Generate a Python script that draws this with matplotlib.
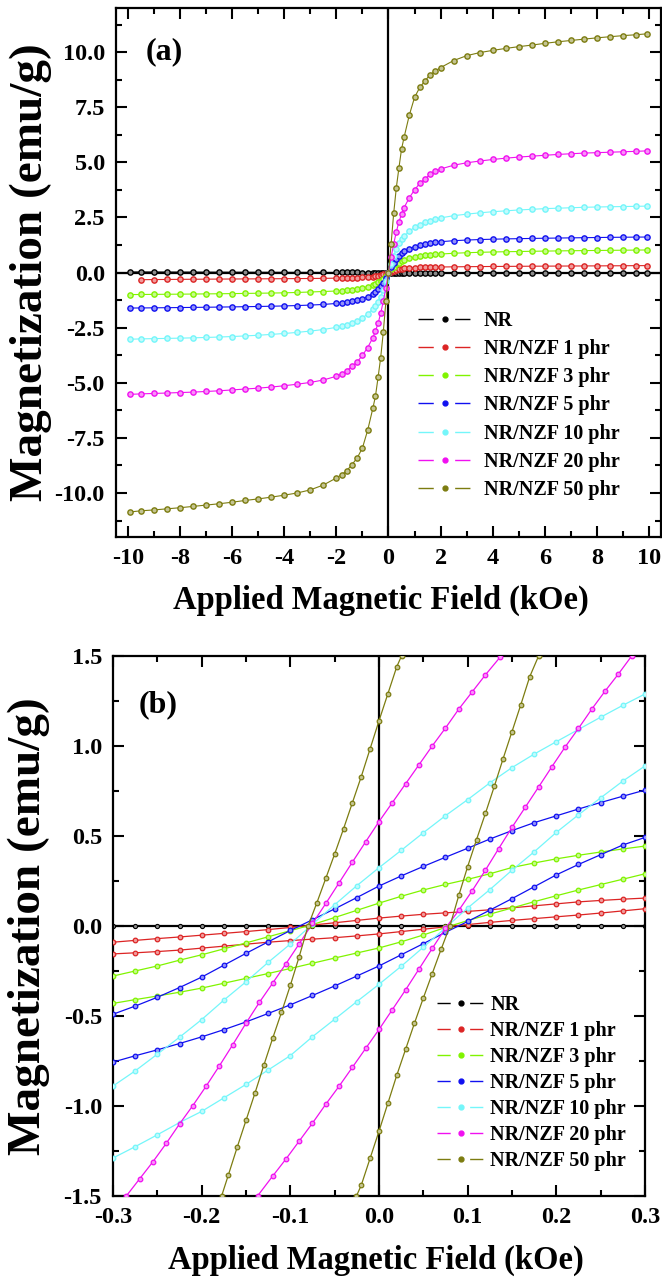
import numpy as np
import matplotlib
matplotlib.use('Agg')
import matplotlib.pyplot as plt
from matplotlib.lines import Line2D
from matplotlib.ticker import MultipleLocator, FormatStrFormatter
import matplotlib.colors as mcolors

plt.rcParams['font.family'] = ['Liberation Serif', 'DejaVu Serif']
plt.rcParams['font.weight'] = 'bold'
plt.rcParams['axes.unicode_minus'] = False

LABELS = ['NR', 'NR/NZF 1 phr', 'NR/NZF 3 phr', 'NR/NZF 5 phr',
          'NR/NZF 10 phr', 'NR/NZF 20 phr', 'NR/NZF 50 phr']
COLORS = ['#000000', '#DC2424', '#80F400', '#1010F0', '#74F6FA', '#F010F0', '#7C7C10']

nan = float('nan')

# ---------------- Panel (a): full loops, field in kOe ----------------
H_A = [-9.9, -9.5, -9.0, -8.5, -8.0, -7.5, -7.0, -6.5, -6.0, -5.5, -5.0, -4.5, -4.0, -3.5,
       -3.0, -2.5, -2.0, -1.8, -1.6, -1.4, -1.2, -1.0, -0.8, -0.6, -0.5, -0.4, -0.3, -0.2, -0.1,
       0.0,
       0.1, 0.2, 0.3, 0.4, 0.5, 0.6, 0.8, 1.0, 1.2, 1.4, 1.6, 1.8, 2.0, 2.5, 3.0, 3.5, 4.0,
       4.5, 5.0, 5.5, 6.0, 6.5, 7.0, 7.5, 8.0, 8.5, 9.0, 9.5, 9.9]

MA_NR = [0.028, 0.027, 0.025, 0.024, 0.022, 0.021, 0.019, 0.018, 0.016, 0.015, 0.013, 0.012, 0.010, 0.009,
         0.008, 0.006, 0.005, 0.004, 0.004, 0.003, 0.003, 0.002, 0.002, 0.001, 0.001, 0.001, 0.000, 0.000, 0.000,
         0.000,
         0.000, 0.000, 0.000, -0.001, -0.001, -0.001, -0.002, -0.002, -0.003, -0.003, -0.004, -0.004, -0.005, -0.006,
         -0.008, -0.009, -0.010, -0.012, -0.013, -0.015, -0.016, -0.018, -0.019, -0.021, -0.022, -0.024, -0.025,
         -0.027, -0.028]
MA_1 = [nan, -0.325, -0.318, -0.313, -0.308, -0.304, -0.300, -0.296, -0.292, -0.289, -0.286, -0.282, -0.278, -0.274,
        -0.269, -0.263, -0.254, -0.249, -0.244, -0.238, -0.231, -0.221, -0.209, -0.191, -0.176, -0.156, -0.129, -0.088,
        -0.046,
        0.000,
        0.045, 0.087, 0.128, 0.155, 0.175, 0.190, 0.208, 0.220, 0.230, 0.237, 0.243, 0.248, 0.252, 0.260, 0.266,
        0.271, 0.276, 0.280, 0.284, 0.288, 0.291, 0.294, 0.297, 0.300, 0.303, 0.306, 0.309, 0.312, 0.315]
MA_3 = [-1.000, -0.995, -0.990, -0.985, -0.980, -0.975, -0.968, -0.962, -0.955, -0.947, -0.938, -0.930, -0.920,
        -0.903, -0.882, -0.860, -0.838, -0.818, -0.798, -0.772, -0.742, -0.700, -0.640, -0.560, -0.510, -0.450,
        -0.370, -0.270, -0.145,
        0.000,
        0.145, 0.270, 0.370, 0.450, 0.510, 0.560, 0.640, 0.700, 0.745, 0.775, 0.800, 0.820, 0.840, 0.875, 0.900,
        0.918, 0.933, 0.945, 0.955, 0.965, 0.974, 0.982, 0.990, 0.996, 1.002, 1.008, 1.014, 1.020, 1.025]
MA_5 = [-1.610, -1.606, -1.600, -1.594, -1.588, -1.581, -1.574, -1.566, -1.558, -1.549, -1.539, -1.528, -1.514,
        -1.497, -1.476, -1.447, -1.402, -1.372, -1.342, -1.302, -1.252, -1.182, -1.092, -0.962, -0.872, -0.762,
        -0.622, -0.452, -0.232,
        0.000,
        0.230, 0.450, 0.620, 0.760, 0.870, 0.960, 1.090, 1.180, 1.250, 1.300, 1.340, 1.370, 1.400, 1.445, 1.475,
        1.497, 1.513, 1.527, 1.538, 1.548, 1.557, 1.566, 1.574, 1.582, 1.590, 1.597, 1.603, 1.608, 1.612]
MA_10 = [-3.025, -3.010, -2.998, -2.987, -2.976, -2.962, -2.945, -2.925, -2.903, -2.875, -2.845, -2.806, -2.765,
         -2.715, -2.655, -2.585, -2.485, -2.425, -2.365, -2.285, -2.185, -2.055, -1.885, -1.645, -1.505, -1.335,
         -1.095, -0.775, -0.405,
         0.000,
         0.400, 0.770, 1.090, 1.330, 1.500, 1.640, 1.880, 2.050, 2.180, 2.280, 2.360, 2.420, 2.480, 2.580, 2.650,
         2.710, 2.760, 2.800, 2.840, 2.870, 2.900, 2.920, 2.940, 2.960, 2.975, 2.985, 2.995, 3.005, 3.015]
MA_20 = [-5.525, -5.505, -5.485, -5.465, -5.445, -5.425, -5.395, -5.365, -5.325, -5.285, -5.245, -5.195, -5.135,
         -5.065, -4.985, -4.875, -4.705, -4.605, -4.455, -4.255, -4.055, -3.755, -3.405, -2.955, -2.655, -2.305,
         -1.855, -1.305, -0.705,
         0.000,
         0.700, 1.300, 1.850, 2.300, 2.650, 2.950, 3.400, 3.750, 4.050, 4.250, 4.450, 4.600, 4.700, 4.870, 4.980,
         5.060, 5.130, 5.190, 5.240, 5.280, 5.320, 5.360, 5.390, 5.420, 5.440, 5.460, 5.480, 5.500, 5.520]
MA_50 = [-10.860, -10.810, -10.770, -10.720, -10.670, -10.610, -10.550, -10.490, -10.420, -10.340, -10.270,
         -10.190, -10.100, -10.000, -9.860, -9.640, -9.320, -9.170, -8.990, -8.710, -8.410, -7.960, -7.160,
         -6.160, -5.610, -4.760, -3.860, -2.710, -1.310,
         0.000,
         1.300, 2.700, 3.850, 4.750, 5.600, 6.150, 7.150, 7.950, 8.400, 8.700, 8.980, 9.150, 9.300, 9.620, 9.840,
         9.980, 10.080, 10.170, 10.250, 10.320, 10.400, 10.470, 10.530, 10.590, 10.650, 10.700, 10.750, 10.790,
         10.830]

# ---------------- Panel (b): low-field region, both branches ----------------
H_B = [-0.300, -0.275, -0.250, -0.225, -0.200, -0.175, -0.150, -0.125, -0.100, -0.075, -0.050, -0.025,
       0.000, 0.025, 0.050, 0.075, 0.100, 0.125, 0.150, 0.175, 0.200, 0.225, 0.250, 0.275, 0.300]

MB_NR = [0.001, 0.001, 0.001, 0.001, 0.001, 0.001, 0.000, 0.000, 0.000, 0.000, 0.000, 0.000, 0.000,
         0.000, 0.000, 0.000, 0.000, 0.000, 0.000, -0.001, -0.001, -0.001, -0.001, -0.001, -0.001]
# descending (upper) branches
MB_U1 = [-0.090, -0.080, -0.070, -0.061, -0.051, -0.041, -0.031, -0.020, -0.008, 0.005, 0.018, 0.031, 0.044,
         0.055, 0.065, 0.073, 0.081, 0.090, 0.101, 0.112, 0.123, 0.134, 0.142, 0.149, 0.155]
MB_U3 = [-0.278, -0.250, -0.222, -0.190, -0.160, -0.127, -0.094, -0.060, -0.026, 0.008, 0.047, 0.087, 0.127,
         0.165, 0.200, 0.231, 0.259, 0.290, 0.325, 0.350, 0.373, 0.393, 0.411, 0.428, 0.444]
MB_U5 = [-0.490, -0.445, -0.396, -0.342, -0.284, -0.218, -0.152, -0.088, -0.025, 0.035, 0.095, 0.158, 0.222,
         0.278, 0.331, 0.382, 0.432, 0.483, 0.530, 0.574, 0.612, 0.650, 0.686, 0.721, 0.755]
MB_U10 = [-0.889, -0.805, -0.712, -0.618, -0.520, -0.412, -0.310, -0.202, -0.100, 0.010, 0.118, 0.224, 0.324,
          0.420, 0.518, 0.613, 0.702, 0.795, 0.880, 0.955, 1.024, 1.092, 1.160, 1.226, 1.289]
# ascending (lower) branches
MB_L1 = [-0.155, -0.149, -0.142, -0.134, -0.123, -0.112, -0.101, -0.090, -0.081, -0.073, -0.065, -0.055, -0.044,
         -0.031, -0.018, -0.005, 0.008, 0.020, 0.031, 0.041, 0.051, 0.061, 0.072, 0.084, 0.096]
MB_L3 = [-0.430, -0.409, -0.389, -0.368, -0.345, -0.318, -0.291, -0.264, -0.236, -0.207, -0.178, -0.150, -0.122,
         -0.088, -0.050, -0.008, 0.030, 0.066, 0.100, 0.135, 0.168, 0.200, 0.230, 0.260, 0.290]
MB_L5 = [-0.756, -0.721, -0.688, -0.653, -0.616, -0.576, -0.533, -0.486, -0.438, -0.386, -0.333, -0.278, -0.222,
         -0.160, -0.098, -0.035, 0.025, 0.088, 0.152, 0.218, 0.284, 0.342, 0.396, 0.450, 0.492]
MB_L10 = [-1.289, -1.226, -1.160, -1.092, -1.030, -0.955, -0.880, -0.800, -0.720, -0.615, -0.518, -0.420, -0.324,
          -0.224, -0.118, -0.010, 0.100, 0.202, 0.310, 0.412, 0.520, 0.618, 0.712, 0.805, 0.889]

H_U20 = [-0.285, -0.270, -0.255, -0.240, -0.225, -0.210, -0.195, -0.180, -0.165, -0.150, -0.135, -0.120, -0.105,
         -0.090, -0.075, -0.060, -0.045, -0.030, -0.015, 0.000, 0.015, 0.030, 0.045, 0.060, 0.075, 0.090, 0.105,
         0.120, 0.137]
MB_U20 = [-1.500, -1.405, -1.310, -1.208, -1.100, -0.998, -0.890, -0.777, -0.660, -0.540, -0.425, -0.318, -0.210,
          -0.099, 0.014, 0.125, 0.240, 0.355, 0.468, 0.580, 0.685, 0.790, 0.895, 1.000, 1.100, 1.205, 1.300,
          1.395, 1.496]
H_L20 = [-0.137, -0.120, -0.105, -0.090, -0.075, -0.060, -0.045, -0.030, -0.015, 0.000, 0.015, 0.030, 0.045,
         0.060, 0.075, 0.090, 0.105, 0.120, 0.135, 0.150, 0.165, 0.180, 0.195, 0.210, 0.225, 0.240, 0.255,
         0.270, 0.285]
MB_L20 = [-1.500, -1.390, -1.295, -1.195, -1.095, -0.990, -0.890, -0.785, -0.680, -0.575, -0.465, -0.355, -0.240,
          -0.125, -0.012, 0.087, 0.195, 0.310, 0.430, 0.548, 0.660, 0.772, 0.885, 0.995, 1.098, 1.205, 1.305,
          1.400, 1.500]

H_U50 = [-0.1775, -0.170, -0.160, -0.150, -0.140, -0.130, -0.120, -0.110, -0.100, -0.090, -0.080, -0.070,
         -0.060, -0.050, -0.040, -0.030, -0.020, -0.010, 0.000, 0.010, 0.020, 0.0254]
MB_U50 = [-1.500, -1.385, -1.230, -1.080, -0.930, -0.775, -0.625, -0.480, -0.330, -0.170, 0.000, 0.130,
          0.265, 0.400, 0.540, 0.685, 0.830, 0.985, 1.140, 1.290, 1.440, 1.500]
H_L50 = [-0.0254, -0.020, -0.010, 0.000, 0.010, 0.020, 0.030, 0.040, 0.050, 0.060, 0.070, 0.080, 0.090,
         0.100, 0.110, 0.120, 0.130, 0.140, 0.150, 0.160, 0.170, 0.180]
MB_L50 = [-1.500, -1.440, -1.290, -1.140, -0.985, -0.830, -0.685, -0.540, -0.400, -0.265, -0.130, 0.000,
          0.170, 0.330, 0.480, 0.625, 0.775, 0.930, 1.080, 1.230, 1.385, 1.500]


def light(c, f=0.55):
    r, g, b = mcolors.to_rgb(c)
    return (r + (1 - r) * f, g + (1 - g) * f, b + (1 - b) * f)


fig = plt.figure(figsize=(6.62, 12.79), dpi=100)
ax_a = fig.add_axes([0.1752, 0.5801, 0.8233, 0.4136])
ax_b = fig.add_axes([0.1707, 0.0649, 0.8036, 0.4222])

TICK_FS = 17.5
LAB_FS_X = 23.5
LAB_FS_Y = 34
LEG_FS = 14.5


def style_axes(ax):
    for s in ax.spines.values():
        s.set_linewidth(1.6)
    ax.tick_params(which='both', direction='in', top=True, right=True, width=1.5,
                   labelsize=TICK_FS, pad=8)
    ax.tick_params(which='major', length=8)
    ax.tick_params(which='minor', length=4.5)
    for lab in ax.get_xticklabels() + ax.get_yticklabels():
        lab.set_fontweight('bold')
    ax.axhline(0, color='k', lw=1.6, zorder=1)
    ax.axvline(0, color='k', lw=1.6, zorder=1)


# ----- panel (a)
series_a = [MA_NR, MA_1, MA_3, MA_5, MA_10, MA_20, MA_50]
for i, (m, c) in enumerate(zip(series_a, COLORS)):
    ax_a.plot(H_A, m, '-', color=c, lw=0.8, marker='o', ms=3.8, mfc=light(c), mec=c,
              mew=1.0, zorder=3 + i)
ax_a.set_xlim(-10.45, 10.45)
ax_a.set_ylim(-12.0, 12.0)
ax_a.xaxis.set_major_locator(MultipleLocator(2))
ax_a.xaxis.set_minor_locator(MultipleLocator(1))
ax_a.yaxis.set_major_locator(MultipleLocator(2.5))
ax_a.yaxis.set_minor_locator(MultipleLocator(1.25))
ax_a.xaxis.set_major_formatter(FormatStrFormatter('%d'))
ax_a.yaxis.set_major_formatter(FormatStrFormatter('%.1f'))
style_axes(ax_a)
ax_a.set_xlabel('Applied Magnetic Field (kOe)', fontsize=LAB_FS_X, fontweight='bold')
ax_a.set_ylabel('Magnetization (emu/g)', fontsize=LAB_FS_Y, fontweight='bold')
ax_a.xaxis.set_label_coords(0.486, -0.090)
ax_a.yaxis.set_label_coords(-0.118, 0.5)
ax_a.text(0.088, 0.917, '(a)', transform=ax_a.transAxes, fontsize=23, fontweight='bold',
          ha='center', va='center')

# ----- panel (b)
ax_b.plot(H_B, MB_NR, '-', color=COLORS[0], lw=0.8, marker='o', ms=3.0, mfc=light(COLORS[0]),
          mec=COLORS[0], mew=0.8, zorder=2)
branches_b = [
    (H_B, MB_U1, H_B, MB_L1),
    (H_B, MB_U3, H_B, MB_L3),
    (H_B, MB_U5, H_B, MB_L5),
    (H_B, MB_U10, H_B, MB_L10),
    (H_U20, MB_U20, H_L20, MB_L20),
    (H_U50, MB_U50, H_L50, MB_L50),
]
for i, ((hu, mu, hl, ml), c) in enumerate(zip(branches_b, COLORS[1:])):
    for h, m in ((hu, mu), (hl, ml)):
        ax_b.plot(h, m, '-', color=c, lw=0.9, marker='o', ms=3.3, mfc=light(c), mec=c,
                  mew=0.9, zorder=3 + i)
ax_b.set_xlim(-0.3, 0.3)
ax_b.set_ylim(-1.5, 1.5)
ax_b.xaxis.set_major_locator(MultipleLocator(0.1))
ax_b.xaxis.set_minor_locator(MultipleLocator(0.05))
ax_b.yaxis.set_major_locator(MultipleLocator(0.5))
ax_b.yaxis.set_minor_locator(MultipleLocator(0.25))
ax_b.xaxis.set_major_formatter(FormatStrFormatter('%.1f'))
ax_b.yaxis.set_major_formatter(FormatStrFormatter('%.1f'))
style_axes(ax_b)
ax_b.set_xlabel('Applied Magnetic Field (kOe)', fontsize=LAB_FS_X, fontweight='bold')
ax_b.set_ylabel('Magnetization (emu/g)', fontsize=LAB_FS_Y, fontweight='bold')
ax_b.xaxis.set_label_coords(0.495, -0.090)
ax_b.yaxis.set_label_coords(-0.118, 0.5)
ax_b.text(0.0855, 0.909, '(b)', transform=ax_b.transAxes, fontsize=23, fontweight='bold',
          ha='center', va='center')


def legend_handles(dash):
    hs = []
    for c in COLORS:
        hs.append(Line2D([0], [0], color=c, lw=1.0, ls=(0, dash), marker='o', ms=3.5,
                         mfc=c, mec=c))
    return hs


ax_a.legend(legend_handles((11, 15.4)), LABELS, loc='upper left',
            bbox_to_anchor=(0.554, 0.428), frameon=False, borderpad=0, borderaxespad=0,
            handlelength=2.67, handletextpad=0.6, labelspacing=0.41,
            prop={'family': 'Liberation Serif', 'weight': 'bold', 'size': LEG_FS})
ax_b.legend(legend_handles((9.5, 14)), LABELS, loc='upper left',
            bbox_to_anchor=(0.609, 0.373), frameon=False, borderpad=0, borderaxespad=0,
            handlelength=2.36, handletextpad=0.28, labelspacing=0.30,
            prop={'family': 'Liberation Serif', 'weight': 'bold', 'size': LEG_FS})

fig.savefig('out.png', dpi=100)
